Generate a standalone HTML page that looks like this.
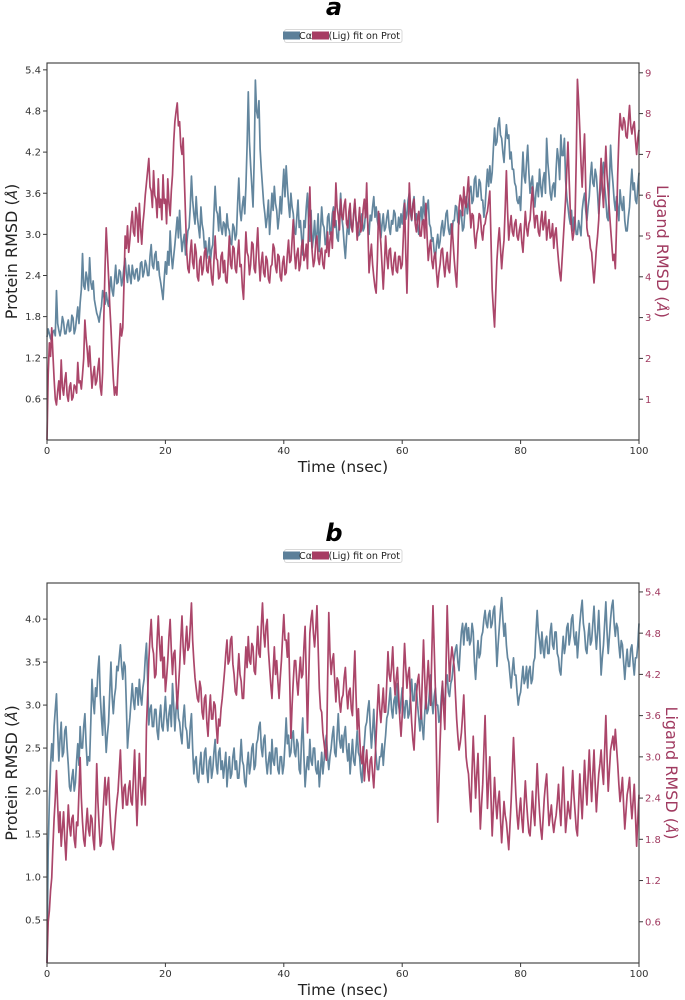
<!DOCTYPE html>
<html lang="en">
<head>
<meta charset="utf-8">
<title>RMSD charts</title>
<style>
html,body{margin:0;padding:0;background:#fff;width:685px;height:1000px;overflow:hidden}
svg{display:block}
text{font-family:"DejaVu Sans","Liberation Sans",sans-serif}
</style>
</head>
<body>
<svg id="figure" xmlns="http://www.w3.org/2000/svg" width="685" height="1000" viewBox="0 0 685 1000"></svg>
<script>
const timeTicks = [0, 20, 40, 60, 80, 100];
const timeTicksShown = ['0', '20', '40', '60', '80', '100'];
const timeMax = 100;

const aProteinTicks = [0.6, 1.2, 1.8, 2.4, 3.0, 3.6, 4.2, 4.8, 5.4];
const aLigandTicks = [1, 2, 3, 4, 5, 6, 7, 8, 9];
const bProteinTicks = [0.5, 1.0, 1.5, 2.0, 2.5, 3.0, 3.5, 4.0];
const bLigandTicks = [0.6, 1.2, 1.8, 2.4, 3.0, 3.6, 4.2, 4.8, 5.4];

const aProteinMax = 5.5;
const aLigandMax = 9.24;
const bProteinMax = 4.42;
const bLigandMax = 5.53;

const aProtein = [
1.50,1.62,1.55,1.48,1.45,1.58,1.60,1.52,2.18,1.70,1.60,1.52,1.62,1.80,1.72,1.55,1.55,1.68,1.75,1.58,1.60,1.82,1.78,1.55,1.62,1.78,1.94,1.70,2.00,2.20,2.72,2.25,2.20,2.45,2.35,2.18,2.66,2.30,2.20,2.32,2.05,1.95,1.85,1.80,1.72,1.85,1.95,2.18,2.10,1.98,
2.15,2.02,1.95,2.20,2.38,2.18,2.10,2.32,2.55,2.28,2.30,2.48,2.45,2.25,2.35,2.52,2.65,2.42,2.30,2.55,2.40,2.28,2.55,2.42,2.35,2.48,2.50,2.32,2.35,2.58,2.60,2.38,2.45,2.62,2.55,2.40,2.40,2.68,2.85,2.55,2.50,2.70,2.75,2.48,2.60,2.40,2.30,2.18,2.05,2.35,
2.60,2.42,2.75,2.55,3.05,2.70,2.50,2.68,2.85,3.05,3.25,2.95,3.35,3.00,2.75,2.90,3.00,2.70,2.85,3.05,3.10,3.40,3.85,3.50,3.30,3.15,3.55,3.25,3.10,2.95,3.40,3.15,3.05,2.80,2.90,2.65,2.75,2.95,2.60,2.78,2.85,3.30,3.70,3.35,3.30,3.05,3.40,3.10,3.00,3.18,
3.15,2.98,3.30,3.10,3.05,2.88,2.85,3.15,3.10,2.92,3.00,3.45,3.82,3.35,3.20,3.42,3.55,3.30,3.70,4.30,5.08,4.35,4.00,3.70,3.40,4.10,5.25,4.80,4.70,4.95,4.25,3.95,3.70,3.45,3.30,3.10,3.25,3.50,3.00,3.30,3.60,3.35,3.70,3.45,3.35,3.08,3.25,3.55,3.30,3.65,
3.95,3.55,4.00,3.70,3.45,3.25,3.60,3.40,3.30,3.05,3.00,3.25,3.50,3.10,3.20,2.95,2.70,3.20,3.10,3.40,3.60,3.15,2.90,3.35,2.80,2.95,3.20,2.88,3.00,3.30,2.75,3.05,3.40,3.15,3.10,2.85,2.90,3.25,3.30,3.00,3.05,3.30,3.40,3.10,3.20,2.95,2.90,3.25,3.60,3.25,
3.10,2.85,2.65,2.95,3.20,3.00,3.35,3.10,3.05,3.30,3.45,3.20,3.15,2.98,3.00,3.20,3.30,3.05,3.10,3.30,3.45,3.15,3.00,3.28,3.20,3.40,3.55,3.25,3.40,3.20,3.10,3.30,2.95,3.15,3.30,3.05,3.10,3.25,3.35,3.10,3.00,3.20,3.15,3.35,3.30,3.05,3.05,3.25,3.10,3.30,
3.15,3.35,3.50,3.22,3.30,3.50,3.60,3.30,3.20,3.45,3.55,3.20,3.30,3.12,3.00,3.25,3.40,3.15,3.55,3.30,3.20,3.40,3.50,3.15,3.10,2.90,2.95,2.75,2.65,2.85,3.00,2.80,2.90,3.10,3.20,2.98,3.10,3.30,3.35,3.08,3.00,3.15,2.95,3.20,3.20,3.42,3.40,3.18,3.15,3.35,
3.30,3.05,3.10,3.35,3.55,3.30,3.45,3.65,3.70,3.45,3.50,3.80,3.85,3.55,3.55,3.80,3.75,3.50,3.50,3.25,3.40,3.70,3.95,3.70,4.00,3.75,3.90,4.25,4.55,4.30,4.35,4.60,4.70,4.45,4.40,4.20,4.05,4.35,4.60,4.40,4.45,4.10,4.20,3.95,3.95,3.75,3.70,3.50,3.45,3.55,
3.35,3.80,4.20,3.85,3.75,4.05,4.30,3.90,3.60,3.75,3.85,3.55,3.40,3.62,3.75,3.55,3.95,3.70,3.55,3.80,3.90,3.60,4.40,4.05,3.85,3.60,3.50,3.70,3.75,3.55,3.95,4.25,4.10,3.80,4.45,4.15,4.15,4.40,3.80,3.55,3.40,3.25,3.15,3.35,3.05,3.25,3.20,3.00,3.00,3.20,
3.10,2.98,3.35,3.50,3.60,3.35,3.20,3.40,3.55,3.85,4.05,3.75,3.70,3.95,3.85,3.60,3.30,3.55,3.70,3.90,4.05,3.70,3.50,3.25,3.20,3.75,4.30,3.95,3.75,3.50,3.35,3.55,3.40,3.20,3.65,3.45,3.35,3.55,3.20,3.05,3.05,3.25,3.40,3.70,3.95,3.65,3.75,3.50,3.45,3.70,3.90
];

const aLigand = [
0,1.60,2.38,2.05,2.75,2.10,1.50,1.00,0.86,1.20,1.45,1.00,1.96,1.30,1.10,1.45,1.65,1.10,0.95,1.30,1.40,0.98,1.05,1.35,1.30,1.15,1.90,1.40,1.45,1.25,1.60,2.00,2.94,2.50,2.20,1.80,2.30,1.75,1.27,1.60,1.80,1.35,1.45,1.75,2.00,1.30,1.10,1.65,3.00,4.20,
5.20,4.60,4.00,3.30,2.75,2.10,1.50,1.10,1.30,1.10,1.75,2.30,2.85,2.55,2.75,3.80,5.00,4.70,5.25,4.60,4.90,5.30,5.60,5.10,5.00,5.70,5.50,4.85,5.80,5.20,4.80,5.30,5.60,6.00,6.30,6.60,6.90,6.20,6.10,5.70,6.60,6.00,5.90,5.45,6.40,5.70,5.90,5.40,6.50,5.80,
5.90,5.30,6.40,5.80,5.50,6.10,6.50,7.30,7.80,8.05,8.26,7.70,7.80,7.20,7.00,7.40,6.40,5.50,4.60,4.20,4.10,4.60,4.90,4.35,4.20,4.80,4.60,4.00,3.90,4.40,4.50,4.05,4.20,4.60,4.70,4.15,4.10,4.50,4.40,3.95,3.80,4.40,5.00,4.45,4.40,3.95,4.00,4.50,4.60,4.10,
4.40,3.90,3.85,4.40,5.00,4.30,4.20,4.75,4.70,4.20,4.10,4.55,4.90,4.25,4.30,3.75,3.45,4.30,5.10,4.60,4.50,4.05,4.30,4.85,4.80,4.20,4.10,4.70,5.20,4.40,3.90,4.35,4.60,4.10,4.00,4.50,4.40,3.95,3.85,4.25,4.30,4.80,4.70,4.25,4.10,4.55,4.50,4.00,3.90,4.35,
4.50,4.05,4.10,4.55,4.90,4.35,4.40,4.90,5.40,4.60,4.20,4.55,4.70,4.15,4.30,4.75,4.90,4.40,4.50,4.80,4.20,5.30,6.20,5.10,4.60,4.25,4.40,4.85,5.00,4.45,4.30,4.60,4.70,4.30,4.20,4.65,4.60,5.10,4.50,4.90,5.10,4.70,5.60,5.25,6.30,5.70,5.50,5.15,5.90,5.50,
5.40,5.75,5.90,5.30,5.20,5.60,5.80,5.25,5.10,5.55,5.90,5.40,4.90,5.30,5.70,5.10,5.20,5.65,5.90,5.45,6.30,5.20,4.10,4.50,4.80,4.30,4.00,3.75,3.60,4.40,5.60,5.20,4.80,4.25,3.70,4.30,5.00,4.50,4.20,4.65,4.70,4.25,4.05,4.40,4.60,4.15,4.10,4.50,4.50,4.20,
4.30,5.00,5.80,4.60,3.60,4.90,6.30,5.70,5.40,5.75,5.90,5.30,5.10,5.45,5.60,5.00,5.00,5.35,5.40,4.95,5.80,5.00,4.40,4.70,4.90,4.40,4.20,4.50,4.60,4.10,3.75,4.10,4.30,4.65,4.70,4.30,4.00,4.35,4.60,4.20,4.10,4.70,5.30,4.85,4.40,4.05,3.75,4.60,5.70,6.00,
5.90,5.50,6.20,5.80,5.70,6.10,6.45,5.70,5.20,5.55,5.50,5.00,4.70,5.05,5.20,5.55,5.50,5.10,4.90,5.25,5.30,5.50,5.60,5.85,6.10,4.90,3.70,3.20,2.77,3.60,4.40,4.85,5.20,4.70,4.20,4.60,4.90,5.70,6.60,5.60,4.90,5.25,5.50,5.10,5.00,5.30,5.40,5.00,4.90,5.15,
5.30,4.85,4.60,5.10,5.60,5.20,5.00,5.30,5.40,5.85,6.20,5.60,5.20,5.50,5.50,5.10,5.00,5.35,5.60,5.15,5.30,5.60,4.90,5.20,5.40,4.95,5.00,5.30,4.70,5.05,5.20,4.75,4.40,4.10,3.90,4.40,4.90,5.40,5.90,6.60,7.30,6.40,5.60,5.20,4.90,5.10,5.40,6.90,8.84,8.30,
7.60,6.80,6.20,6.90,7.50,6.20,5.20,5.00,5.00,4.70,4.60,4.20,3.85,4.25,4.70,5.00,5.40,6.20,6.90,6.20,5.70,6.50,7.20,6.50,6.10,5.60,5.20,4.80,4.40,4.55,4.20,5.20,6.50,7.40,8.00,7.70,7.60,7.90,7.80,7.45,7.40,7.80,8.20,7.70,7.50,7.70,7.80,7.35,7.00,7.40,7.60
];

const bProtein = [
0,1.30,1.90,2.30,2.55,2.35,2.75,2.95,3.13,2.70,2.35,2.60,2.80,2.40,2.45,2.70,2.75,2.50,2.30,2.05,2.00,2.15,2.25,2.00,2.10,2.35,2.55,2.30,2.75,2.50,2.50,2.75,2.90,2.55,2.30,2.40,2.35,2.80,3.30,3.05,2.90,3.20,3.10,3.40,3.57,3.10,2.85,2.65,3.10,2.75,
2.45,2.65,2.80,3.15,3.50,3.10,2.90,3.10,3.20,3.45,3.40,3.55,3.70,3.45,3.30,3.50,3.45,3.00,2.50,2.70,2.85,3.05,3.25,3.05,2.95,3.20,3.20,3.00,3.30,3.10,3.00,3.20,3.30,3.55,3.72,3.30,2.77,2.95,3.00,2.75,2.75,2.95,2.95,2.70,2.60,2.85,3.00,2.75,2.70,2.90,
3.10,2.85,2.70,2.90,3.00,2.75,3.25,3.00,2.70,2.95,3.10,2.85,2.80,2.65,2.55,2.85,3.00,2.75,2.70,2.50,2.50,2.75,2.90,2.50,2.20,2.35,2.40,2.15,2.10,2.30,2.45,2.20,2.20,2.45,2.50,2.25,2.10,2.35,2.40,2.15,2.25,2.45,2.60,2.30,2.20,2.45,2.50,2.25,2.35,2.15,
2.30,2.45,2.05,2.25,2.40,2.15,2.20,2.40,2.50,2.25,2.35,2.15,2.15,2.35,2.60,2.35,2.30,2.10,2.05,2.30,2.45,2.20,2.30,2.50,2.55,2.25,2.30,2.55,2.60,2.75,2.80,2.50,2.40,2.60,2.65,2.35,2.20,2.35,2.45,2.20,2.60,2.35,2.30,2.50,2.50,2.25,2.20,2.40,2.40,2.20,
2.30,2.55,2.85,2.55,2.65,2.40,2.45,2.65,2.70,2.45,2.40,2.60,2.55,2.25,2.20,2.60,2.85,2.40,2.05,2.25,2.40,2.25,2.60,2.35,2.30,2.50,2.50,2.25,2.20,2.35,2.05,2.25,2.45,2.20,2.35,2.55,2.65,2.40,2.25,2.40,2.50,2.65,2.75,2.45,2.40,2.65,2.90,2.60,2.50,2.65,
2.45,2.65,2.75,2.50,2.35,2.55,2.20,2.40,2.60,2.35,2.30,2.50,2.70,2.45,2.40,2.20,2.10,2.35,2.55,2.75,2.80,2.95,3.05,2.75,2.50,2.70,2.95,2.60,2.40,2.25,2.25,2.40,2.40,2.55,2.30,2.50,2.65,2.85,2.90,3.05,3.20,2.95,2.85,3.05,3.10,2.90,3.25,3.00,2.90,3.05,
3.20,3.00,2.85,3.05,3.05,2.85,2.90,3.15,3.30,3.05,3.05,3.25,3.20,3.00,2.85,2.70,2.95,2.75,2.60,2.90,3.10,2.90,2.95,3.15,3.35,3.05,2.90,3.10,3.20,3.00,3.00,2.80,2.85,3.10,3.25,3.00,3.05,3.25,3.35,3.15,3.10,3.25,3.30,3.45,3.55,3.65,3.70,3.50,3.40,3.65,
3.85,3.95,3.70,3.90,3.95,3.75,3.90,3.70,3.75,3.95,3.85,3.50,3.30,3.55,3.75,3.55,3.60,3.80,3.85,4.00,4.10,3.95,3.90,4.05,4.10,3.90,3.95,4.10,4.15,3.80,3.45,3.70,3.90,4.10,4.25,4.00,3.80,3.95,3.70,3.55,3.50,3.35,3.20,3.40,3.55,3.35,3.35,3.15,3.00,3.10,
3.15,3.30,3.45,3.25,3.30,3.45,3.20,3.40,3.45,3.25,3.30,3.50,3.55,3.85,4.10,3.85,3.75,3.60,3.85,3.65,3.55,3.75,3.80,3.60,3.60,3.85,3.95,3.70,3.65,3.85,3.85,3.60,3.55,3.40,3.35,3.60,3.80,3.60,3.70,3.90,3.95,3.70,3.80,4.00,4.05,3.80,3.70,3.85,3.55,3.75,
3.95,4.10,4.22,3.95,3.85,3.65,3.60,3.80,3.95,3.70,3.75,3.95,4.15,3.85,3.65,3.85,4.10,3.75,3.35,3.55,3.70,3.95,4.20,3.85,3.60,3.80,4.00,4.15,4.22,3.95,3.80,3.95,3.90,3.70,3.55,3.75,3.70,3.50,3.30,3.50,3.65,3.45,3.45,3.65,3.70,3.50,3.35,3.55,3.55,3.70,3.95
];

const bLigand = [
0,0.60,0.76,1.05,1.24,1.70,2.10,2.40,2.80,2.30,1.90,2.20,1.70,1.95,2.20,1.80,1.50,1.90,2.30,2.00,1.85,2.10,2.15,1.80,1.68,2.05,2.00,2.50,2.99,2.40,2.05,1.80,1.70,2.00,2.25,1.95,1.85,2.15,2.10,1.80,1.65,2.20,2.90,2.35,2.00,1.70,1.75,2.10,2.40,2.70,
2.30,2.55,2.70,2.25,1.95,1.75,1.65,1.90,2.15,2.35,2.50,2.80,3.10,2.60,2.25,2.55,2.60,2.30,2.30,2.55,2.65,2.35,2.30,2.70,3.10,2.50,2.00,2.50,3.05,2.60,2.30,2.55,2.70,2.30,3.45,3.90,4.40,4.75,5.00,4.60,4.50,4.15,4.20,4.70,5.05,4.65,4.40,4.75,4.15,4.45,
3.95,4.15,4.40,4.75,5.00,4.55,4.20,4.50,4.55,4.10,3.70,4.00,4.30,4.70,5.05,4.60,4.35,4.65,4.90,4.55,4.60,4.90,5.24,4.70,4.40,4.15,4.00,3.85,3.80,4.10,4.00,3.65,3.55,3.85,3.90,3.50,3.30,3.65,3.90,3.55,3.55,3.80,3.75,3.45,3.20,3.55,3.45,3.70,3.85,4.05,
4.25,4.50,4.70,4.35,4.40,4.70,4.75,4.35,4.20,3.95,3.90,4.20,4.50,4.20,4.10,3.85,3.85,4.25,4.60,4.30,4.75,4.40,4.35,4.65,4.60,4.25,4.20,4.55,4.90,4.50,4.45,4.90,5.24,4.80,4.60,4.90,5.00,4.55,4.30,4.05,3.85,4.25,4.60,4.20,4.40,4.10,3.85,4.15,4.40,4.75,
5.07,4.70,4.70,4.45,4.80,4.10,3.27,3.75,4.10,4.40,4.40,4.10,3.90,4.20,4.45,4.15,4.20,4.60,4.90,4.15,3.35,4.10,4.80,5.00,5.13,4.80,4.60,4.85,5.20,4.60,4.00,3.70,3.65,3.35,3.20,3.05,2.95,4.10,5.10,4.50,4.20,4.40,4.50,4.10,3.80,4.15,4.10,3.80,3.65,3.85,
3.90,4.15,4.30,3.95,3.70,3.95,4.00,3.70,3.60,4.10,4.54,3.90,3.40,3.70,3.30,3.00,2.90,3.15,2.65,2.90,3.10,2.80,2.65,2.95,3.00,2.75,2.55,2.90,3.30,3.70,4.05,3.70,3.50,3.75,4.00,3.65,3.65,4.10,4.53,4.20,4.10,4.30,4.60,4.15,3.90,4.15,4.30,3.90,3.55,3.30,
3.60,4.20,4.65,4.30,4.00,4.20,4.30,3.85,3.50,3.25,3.10,3.50,3.90,4.10,4.20,3.85,3.55,4.15,4.70,4.15,3.70,4.10,4.40,4.05,3.75,4.50,5.20,4.60,4.00,3.00,2.05,2.60,3.20,3.70,4.10,3.70,3.40,4.30,5.20,4.60,4.10,4.40,4.60,4.45,4.30,3.90,3.55,3.30,3.10,3.20,
3.35,3.60,3.90,3.40,3.00,2.85,2.75,2.45,2.20,2.80,3.30,2.85,2.40,2.75,3.05,2.50,1.95,2.30,2.60,3.10,3.60,2.90,2.25,2.65,3.00,2.40,1.85,2.25,2.70,2.35,2.10,2.35,2.50,2.10,1.75,2.05,2.35,2.15,2.05,1.85,1.65,2.00,2.35,2.80,3.28,2.85,2.45,2.15,1.95,2.20,
2.40,2.10,1.90,2.30,2.65,2.35,2.10,1.90,1.85,2.15,2.50,2.20,2.00,2.45,2.90,2.50,2.20,1.95,1.80,2.10,2.40,2.60,2.75,2.35,2.00,2.15,2.30,2.05,1.90,2.05,2.15,2.35,2.60,2.25,2.00,2.40,2.85,2.35,1.90,2.10,2.35,2.20,2.10,2.45,2.80,2.45,2.20,1.95,1.85,2.30,
2.75,2.40,2.10,2.50,2.95,2.60,2.30,2.70,3.10,2.70,2.35,2.75,3.10,2.60,2.20,2.50,2.75,2.90,3.10,2.80,2.60,3.10,3.60,3.00,2.50,2.80,3.10,3.20,3.30,3.10,3.40,3.15,2.90,2.60,2.35,2.50,2.70,2.30,1.95,2.20,2.45,2.55,2.70,2.35,2.10,2.35,2.60,2.15,1.70,2.10,2.45
];

const NS = 'http://www.w3.org/2000/svg';
const figure = document.getElementById('figure');
const BLUE = '#5b7f99';
const RED = '#a63c62';
const RED_TEXT = '#a03a60';
const FRAME = '#3a3a3a';
const LEFT = 47, RIGHT = 639;

function make(parent, tag, attrs, text) {
  const el = document.createElementNS(NS, tag);
  for (const k in attrs) el.setAttribute(k, attrs[k]);
  if (text !== undefined) el.textContent = text;
  parent.appendChild(el);
  return el;
}

function scaleX(t) { return LEFT + (t / timeMax) * (RIGHT - LEFT); }

function linePath(values, sy) {
  const step = timeMax / (values.length - 1);
  return values.map(function (v, i) {
    return (i ? 'L' : 'M') + scaleX(i * step).toFixed(2) + ' ' + sy(v).toFixed(2);
  }).join('');
}

function labelWithAngstrom(parent, attrs, base) {
  const el = make(parent, 'text', attrs);
  el.appendChild(document.createTextNode(base + ' ('));
  const a = make(el, 'tspan', { 'font-style': 'italic', 'font-size': '13.5' }, 'Å');
  
  
  el.appendChild(document.createTextNode(')'));
  return el;
}

function drawChart(cfg) {
  const top = cfg.top, bottom = cfg.bottom;
  const g = make(figure, 'g', {});
  
  
  const syL = function (v) { return bottom - (v / cfg.leftMax) * (bottom - top); };
  const syR = function (v) { return bottom - (v / cfg.rightMax) * (bottom - top); };

  const title = make(g, 'text', { x: 334, y: cfg.titleY, 'text-anchor': 'middle', 'font-size': '24', 'font-weight': 'bold', 'font-style': 'italic', fill: '#000' }, cfg.id);
  
  

  const proteinLine = make(g, 'path', { d: linePath(cfg.protein, syL), fill: 'none', stroke: BLUE, 'stroke-width': '1.7', 'stroke-linejoin': 'round', opacity: '0.95' });
  
  

  const ligandLine = make(g, 'path', { d: linePath(cfg.ligand, syR), fill: 'none', stroke: RED, 'stroke-width': '1.7', 'stroke-linejoin': 'round', opacity: '0.95' });
  
  

  const frame = make(g, 'rect', { x: LEFT, y: top, width: RIGHT - LEFT, height: bottom - top, fill: 'none', stroke: FRAME, 'stroke-width': '1.1' });
  
  

  timeTicks.forEach(function (t, i) {
    const x = scaleX(t);
    const tick = make(g, 'line', { x1: x, x2: x, y1: bottom, y2: bottom + 4, stroke: FRAME, 'stroke-width': '1' });
    
    
    const lab = make(g, 'text', { x: x, y: bottom + 14, 'text-anchor': 'middle', 'font-size': '10', fill: '#333' }, timeTicksShown[i]);
    
    
  });

  cfg.leftTicks.forEach(function (v) {
    const y = syL(v);
    const tick = make(g, 'line', { x1: LEFT - 4, x2: LEFT, y1: y, y2: y, stroke: FRAME, 'stroke-width': '1' });
    
    
    const lab = make(g, 'text', { x: LEFT - 6, y: y + 3.6, 'text-anchor': 'end', 'font-size': '10', fill: '#333' }, v.toFixed(1));
    
    
  });

  cfg.rightTicks.forEach(function (v) {
    const y = syR(v);
    const tick = make(g, 'line', { x1: RIGHT, x2: RIGHT + 4, y1: y, y2: y, stroke: FRAME, 'stroke-width': '1' });
    
    
    const lab = make(g, 'text', { x: RIGHT + 6, y: y + 3.6, 'font-size': '10', fill: RED_TEXT }, cfg.rightDecimals ? v.toFixed(1) : String(v));
    
    
  });

  const xTitle = make(g, 'text', { x: 343, y: bottom + 32, 'text-anchor': 'middle', 'font-size': '15.4', fill: '#222' }, 'Time (nsec)');
  
  

  const cy = (top + bottom) / 2;
  const yTitle = labelWithAngstrom(g, { transform: 'translate(17 ' + cy + ') rotate(-90)', 'text-anchor': 'middle', 'font-size': '16', fill: '#222' }, 'Protein RMSD');
  
  

  const yTitleR = labelWithAngstrom(g, { transform: 'translate(' + cfg.rightTitleX + ' ' + cy + ') rotate(90)', 'text-anchor': 'middle', 'font-size': '16', fill: RED_TEXT }, 'Ligand RMSD');
  
  

  const ly = cfg.legendY;
  const legend = make(g, 'g', {});
  
  
  const box = make(legend, 'rect', { x: 284.5, y: ly + 0.5, width: 117.5, height: 13, rx: 2, fill: '#fff', stroke: '#d8d8d8', 'stroke-width': '1' });
  
  
  const swatchP = make(legend, 'rect', { x: 283, y: ly + 2.5, width: 17, height: 8, fill: BLUE });
  
  
  const textP = make(legend, 'text', { x: 299, y: ly + 10.2, 'font-size': '9.6', fill: '#222' });
  textP.textContent = 'Cα';
  
  
  const swatchL = make(legend, 'rect', { x: 312, y: ly + 2.5, width: 17, height: 8, fill: RED });
  
  
  const textL = make(legend, 'text', { x: 328.5, y: ly + 10.2, 'font-size': '9.6', fill: '#222' }, '(Lig) fit on Prot');
  
  
}

drawChart({ id: 'a', top: 63, bottom: 440, titleY: 15, legendY: 29, rightTitleX: 657, protein: aProtein, ligand: aLigand, leftMax: aProteinMax, rightMax: aLigandMax, leftTicks: aProteinTicks, rightTicks: aLigandTicks, rightDecimals: false });
drawChart({ id: 'b', top: 583, bottom: 963, titleY: 541, legendY: 549, rightTitleX: 666, protein: bProtein, ligand: bLigand, leftMax: bProteinMax, rightMax: bLigandMax, leftTicks: bProteinTicks, rightTicks: bLigandTicks, rightDecimals: true });
</script>
</body>
</html>
